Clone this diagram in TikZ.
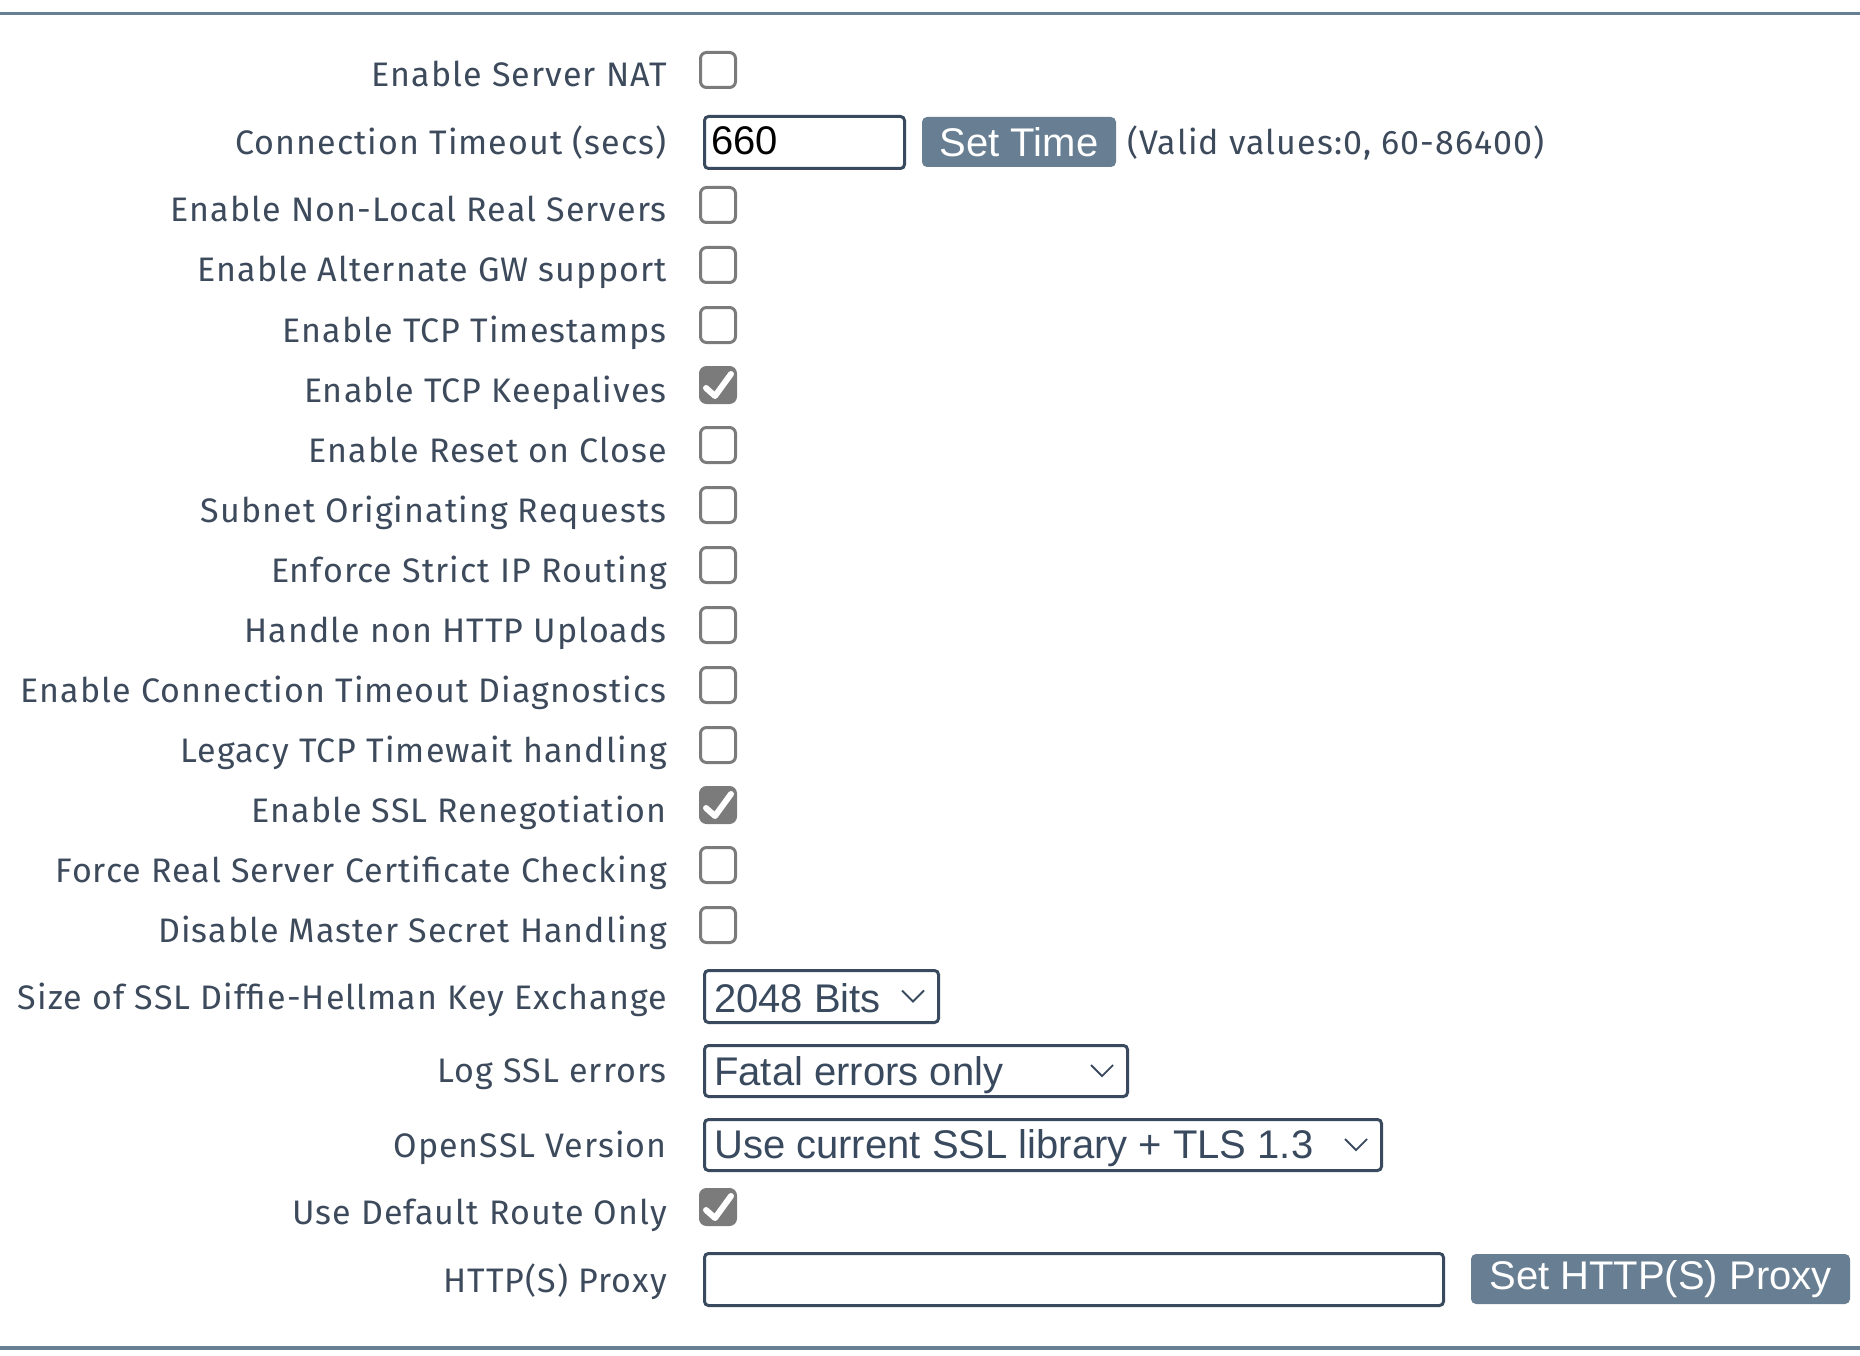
\documentclass[tikz,border=0pt]{standalone}
\usepackage{fontspec}
\setmainfont{Fira Sans}
\newfontfamily\lblfont{Fira Sans}[LetterSpace=3.2]
\newfontfamily\arialfont{Liberation Sans}
\usetikzlibrary{calc, positioning}
\definecolor{labelInk}{HTML}{3C4A5C}
\definecolor{fieldEdge}{HTML}{3A4A5E}
\definecolor{btnFill}{HTML}{687E92}
\definecolor{ruleGray}{HTML}{687E92}
\definecolor{boxGray}{HTML}{7B7B7B}

\tikzset{
    lbl/.style={anchor=base east, inner sep=0pt, text=labelInk, font=\lblfont\fontsize{34}{38}\selectfont},
    cbox/.style={draw=boxGray, line width=3pt, rounded corners=6pt, minimum size=35pt, inner sep=0pt},
    cboxon/.style={cbox, fill=boxGray},
    tick/.style={white, line width=6pt, line cap=round, line join=round},
    field/.style={draw=fieldEdge, line width=3pt, rounded corners=4pt, inner sep=0pt},
    btn/.style={fill=btnFill, rounded corners=5pt, inner sep=0pt, text=white, font=\arialfont\fontsize{40}{44}\selectfont},
    val/.style={anchor=base west, inner sep=0pt, text=fieldEdge, font=\arialfont\fontsize{40}{44}\selectfont},
    chev/.style={draw=fieldEdge, line width=1.8pt},
}

\begin{document}
\begin{tikzpicture}[x=1pt, y=-1pt]
    \useasboundingbox (0,0) rectangle (1860,1356);
    \draw[ruleGray, line width=3.5pt] (0,13.5) -- (1860,13.5);
    \draw[ruleGray, line width=3.5pt] (0,1348) -- (1860,1348);

    % checkbox rows
    \foreach \cy/\nm/\txt/\st in {70/nat/Enable Server NAT/cbox, 205/nonlocal/Enable Non-Local Real Servers/cbox,
        265/altgw/Enable Alternate GW support/cbox, 325/tstamp/Enable TCP Timestamps/cbox,
        385/keep/Enable TCP Keepalives/cboxon, 445/reset/Enable Reset on Close/cbox,
        505/subnet/Subnet Originating Requests/cbox, 565/strict/Enforce Strict IP Routing/cbox,
        625/upload/Handle non HTTP Uploads/cbox, 685/diag/Enable Connection Timeout Diagnostics/cbox,
        745/twait/Legacy TCP Timewait handling/cbox, 805/reneg/Enable SSL Renegotiation/cboxon,
        865/cert/Force Real Server Certificate Checking/cbox, 925/master/Disable Master Secret Handling/cbox,
        1207/route/Use Default Route Only/cboxon}
    {
        \node[\st] (cb\nm) at (718,\cy) {};
        \node[lbl] (lb\nm) at (667,\cy+17) {\txt};
    }
    \foreach \nm in {keep, reneg, route}
        \draw[tick] ($(cb\nm)+(-12,3)$) -- ($(cb\nm)+(-3,11)$) -- ($(cb\nm)+(13,-11)$);

    % timeout
    \node[lbl] (lbtimeout) at (667,155) {Connection Timeout (secs)};
    \node[field, minimum width=200pt, minimum height=52pt] (fdtimeout) at (804.5,142.5) {};
    \node[val, text=black] (vltimeout) at (711,155) {660};
    \node[btn, minimum width=194pt, minimum height=50pt] (btntime) at (1019,142) {Set Time};
    \node[lbl, anchor=base west] (hint) at (1127,155) {(Valid values:0, 60-86400)};

    % selects
    \node[lbl] (lbdh) at (667,1009) {Size of SSL Diffie-Hellman Key Exchange};
    \node[field, minimum width=234pt, minimum height=52pt] (seldh) at (821.5,996.5) {};
    \node[val] (vldh) at (714,1012) {2048 Bits};

    \node[lbl] (lblog) at (667,1082) {Log SSL errors};
    \node[field, minimum width=423pt, minimum height=51pt] (sellog) at (916,1071) {};
    \node[val] (vllog) at (714,1085) {Fatal errors only};

    \node[lbl] (lbossl) at (667,1157) {OpenSSL Version};
    \node[field, minimum width=677pt, minimum height=51pt] (selossl) at (1043,1145) {};
    \node[val] (vlossl) at (714,1158) {Use current SSL library + TLS 1.3};

    \foreach \nm in {dh, log, ossl}
        \draw[chev] ($(sel\nm.east)+(-38,-6)$) -- ($(sel\nm.east)+(-27,5)$) -- ($(sel\nm.east)+(-16,-6)$);

    % proxy
    \node[lbl] (lbproxy) at (667,1292) {HTTP(S) Proxy};
    \node[field, minimum width=739pt, minimum height=52pt] (fdproxy) at (1074,1279.5) {};
    \node[btn, minimum width=379pt, minimum height=50pt] (btnproxy) at (1660.5,1279) {Set HTTP(S) Proxy};
\end{tikzpicture}
\end{document}
